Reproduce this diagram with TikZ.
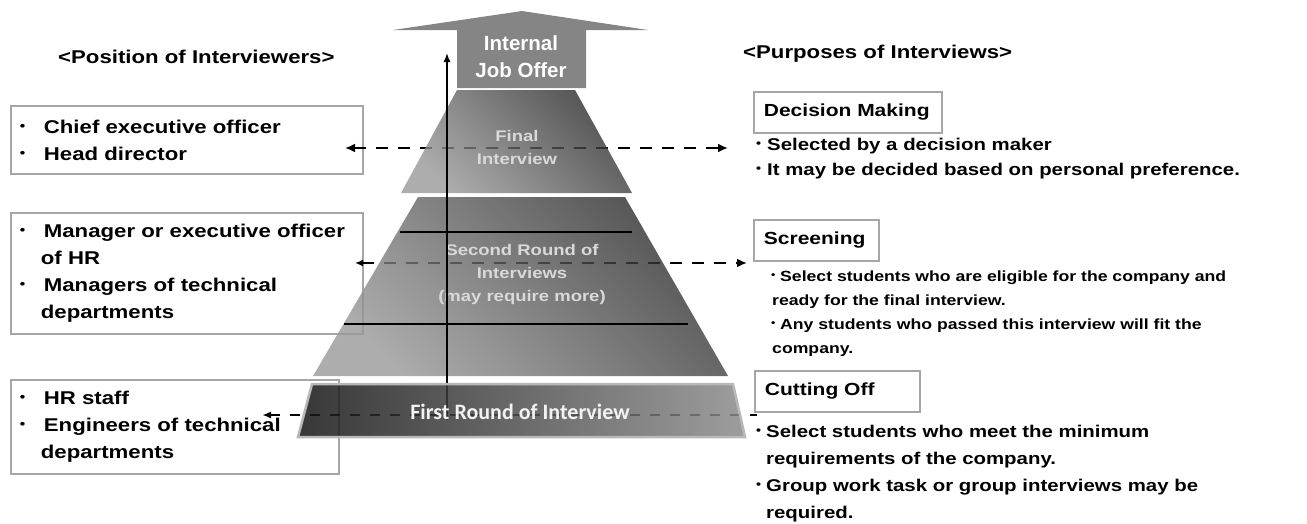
\documentclass[tikz,border=0pt]{standalone}
\usepackage{fontspec}
\setmainfont{Liberation Sans}[FakeStretch=1.2]
\newfontfamily\offerfont{Liberation Sans}
\newfontfamily\bandfont{Carlito}
\usetikzlibrary{arrows.meta}

% small bullet in a box of given width
\newcommand{\bul}[1][12pt]{\makebox[#1][l]{\raisebox{0.15em}{\scalebox{0.7}{\textbullet}}}}

\begin{document}
\begin{tikzpicture}[
      x=1pt, y=-1pt,
      every node/.style={font=\bfseries},
      posbox/.style={draw=black!35, line width=1.8pt, anchor=north west,
                     inner xsep=9pt, inner ysep=0pt, align=left,
                     font=\fontsize{18.5}{27}\selectfont\bfseries},
      purpbox/.style={draw=black!35, line width=1.8pt, anchor=north west,
                      inner xsep=10pt, inner ysep=0pt, minimum height=41pt,
                      align=left, font=\fontsize{17.5}{22}\selectfont\bfseries},
      purptext/.style={anchor=base west, inner sep=0pt, align=left,
                       font=\fontsize{17}{25}\selectfont\bfseries},
      headline/.style={anchor=base west, inner sep=0pt,
                       font=\fontsize{18.5}{22}\selectfont\bfseries},
      tier/.style={align=center, text=black!15, inner sep=0pt,
                   font=\fontsize{15.4}{23}\selectfont\bfseries},
      tiershade/.style={fill opacity=0.8, top color=black!84,
                        bottom color=black!40, shading angle=-45},
      link/.style={dashed, dash pattern=on 12pt off 10pt, line width=2.6pt},
    ]
    \useasboundingbox (0,0) rectangle (1307,523);

    % Headings
    \node[headline] (pos-head)  at (58,63)  {<Position of Interviewers>};
    \node[headline] (purp-head) at (743,58) {<Purposes of Interviews>};

    % Interviewer boxes
    \node[posbox, text width=334pt, minimum height=68pt] (ceo) at (10,105)
      {\bul[24pt]Chief executive officer\\ \bul[24pt]Head director};
    \node[posbox, text width=334pt, minimum height=121pt] (mgr) at (10,212)
      {\bul[24pt]Manager or executive officer\\ \hspace*{21pt}of HR\\
       \bul[24pt]Managers of technical\\ \hspace*{21pt}departments};
    \node[posbox, text width=310pt, minimum height=94pt] (staff) at (10,379)
      {\bul[24pt]HR staff\\ \bul[24pt]Engineers of technical\\
       \hspace*{21pt}departments};

    % Purpose boxes (text nodes sit on their last baseline)
    \node[purpbox, text width=168pt] (dec) at (753,91)  {Decision Making};
    \node[purpbox, text width=105pt] (scr) at (753,219) {Screening};
    \node[purpbox, text width=145pt] (cut) at (754,370) {Cutting Off};

    \node[purptext] (dec-txt) at (756,175)
      {\bul[11pt]Selected by a decision maker\\
       \bul[11pt]It may be decided based on personal preference.};
    \node[purptext, font=\fontsize{14.7}{24}\selectfont\bfseries] (scr-txt) at (771,353)
      {\bul[9pt]Select students who are eligible for the company and\\
       \hspace*{1pt}ready for the final interview.\\
       \bul[9pt]Any students who passed this interview will fit the\\
       \hspace*{1pt}company.};
    \node[purptext, font=\fontsize{17}{27}\selectfont\bfseries] (cut-txt) at (756,518)
      {\bul[10pt]Select students who meet the minimum\\
       \hspace*{10pt}requirements of the company.\\
       \bul[10pt]Group work task or group interviews may be\\
       \hspace*{10pt}required.};

    % Dashed links between both sides
    \coordinate (fin-l) at (345,148);
    \coordinate (fin-r) at (728,148);
    \coordinate (scr-l) at (355,263);
    \coordinate (scr-r) at (747,263);
    \coordinate (cut-l) at (262,415);
    \coordinate (cut-r) at (757,415);
    \draw[link, {Latex[length=10pt,width=9pt]}-{Latex[length=10pt,width=9pt]}] (fin-l) -- (fin-r);
    \draw[link, {Latex[length=8pt,width=7pt]}-{Latex[length=10pt,width=9pt]}] (scr-l) -- (scr-r);
    \draw[link, line width=2pt, dash pattern=on 10pt off 10pt,
          {Latex[length=9pt,width=7pt]}-] (cut-l) -- (cut-r);

    % Pyramid
    \fill[black!48] (457,88) -- (457,30) -- (393,30) -- (522,11) -- (648,30)
                    -- (586,30) -- (586,88) -- cycle;
    \shade[tiershade] (457,90) -- (575,90) -- (632,193) -- (401,193) -- cycle;
    \shade[tiershade] (418,197) -- (625,197) -- (728,376) -- (313,376) -- cycle;
    \draw[line width=2.4pt] (400,232) -- (632,232);
    \draw[line width=2.4pt] (344,324) -- (688,324);

    \node[font=\offerfont\fontsize{20.5}{27}\selectfont\bfseries, text=white,
          align=center] (offer) at (521,57) {Internal\\Job Offer};
    \node[tier] (final)  at (517,147) {Final\\Interview};
    \node[tier] (second) at (522,275) {Second Round of\\Interviews\\(may require more)};

    % Rising arrow
    \coordinate (rise-s) at (447,420);
    \coordinate (rise-e) at (447,53);
    \draw[line width=1.5pt, -{Latex[length=9pt,width=7pt]}] (rise-s) -- (rise-e);

    % First round band
    \shadedraw[draw=black!28, line width=2.5pt, fill opacity=0.85,
               left color=black!92, right color=black!45]
      (312,384) -- (733,384) -- (745,437) -- (298,437) -- cycle;
    \node[font=\bandfont\fontsize{22}{26}\selectfont\bfseries, text=black!5]
      (first) at (520,412) {First Round of Interview};
\end{tikzpicture}
\end{document}
